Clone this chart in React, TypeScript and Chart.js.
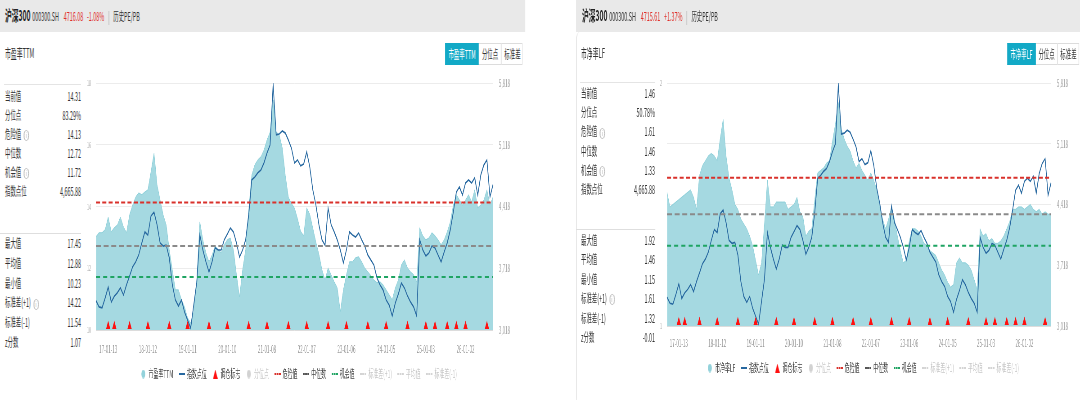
import React, { useEffect, useRef } from 'react';
import { Chart, registerables } from 'chart.js';

Chart.register(...registerables);

const FONT = "'Noto Sans CJK SC', 'Noto Sans', sans-serif";
Chart.defaults.font.family = FONT;

// horizontal compression of the whole picture
const SX = 0.45;
const u = (x: number) => x / SX;

// ---------------- data ----------------
const firstPeriod = '2016-09-23';
const periodStepDays = 28;
const labelOffset = 4;
const labelEvery = 13;

const csi300 = [
  3350, 3280, 3270, 3380, 3505, 3335, 3400, 3440, 3495, 3415,
  3530, 3630, 3735, 3790, 3870, 4005, 4130, 4095, 4310, 4355,
  4210, 4005, 3970, 3980, 3835, 3530, 3358, 3290, 3358, 3222,
  3130, 3040, 3300, 3560, 4095, 3925, 3790, 3675, 3790, 3950,
  3925, 3925, 4040, 4106, 4175, 4130, 4005, 3845, 3925, 4040,
  4322, 4720, 4753, 4800, 4832, 4912, 5025, 5116, 5800, 5230,
  5240, 5275, 5250, 5170, 5080, 4912, 4946, 4878, 4900, 5036,
  4866, 4605, 4435, 4210, 4040, 3980, 4400, 4210, 4130, 4040,
  3925, 3778, 3925, 4130, 4095, 4072, 4118, 4040, 3970, 3868,
  3812, 3755, 3608, 3530, 3472, 3358, 3300, 3176, 3324, 3426,
  3551, 3494, 3404, 3335, 3279, 3176, 4040, 3925, 3857, 3891,
  3970, 3948, 3868, 3790, 3902, 4005, 4152, 4356, 4583, 4640,
  4549, 4685, 4720, 4685, 4742, 4549, 4776, 4889, 4946, 4526,
  4666,
];

const peTTM = [
  13.02, 13.15, 13.15, 13.25, 13.66, 13.18, 13.31, 13.4, 13.66, 13.34,
  13.15, 13.73, 14.05, 14.31, 14.44, 14.38, 14.47, 14.54, 15.12, 15.73,
  14.7, 14.21, 13.73, 13.4, 12.6, 11.95, 11.3, 11.3, 10.98, 10.75,
  10.39, 10.23, 10.59, 11.62, 13.5, 12.92, 12.5, 12.21, 12.43, 12.72,
  12.6, 12.5, 12.76, 12.92, 12.98, 12.6, 11.79, 11.07, 11.95, 12.6,
  13.89, 15.02, 15.35, 15.51, 15.61, 15.83, 16.16, 16.41, 17.45, 16.41,
  16.32, 15.9, 15.0, 14.3, 14.1, 13.95, 13.6, 13.2, 13.05, 13.95,
  13.75, 13.3, 12.85, 12.45, 11.95, 11.62, 12.01, 11.79, 11.56, 11.37,
  10.6, 11.3, 11.79, 12.21, 12.21, 12.34, 12.37, 12.21, 12.01, 11.88,
  11.76, 11.62, 11.53, 11.56, 11.46, 11.3, 11.14, 10.98, 11.37, 11.62,
  12.11, 12.27, 12.01, 11.88, 11.79, 11.56, 13.31, 13.05, 12.92, 12.98,
  13.15, 13.05, 12.92, 12.76, 12.92, 13.18, 13.5, 14.05, 14.38, 14.21,
  14.05, 14.21, 14.38, 14.15, 14.54, 13.95, 14.05, 14.21, 14.54, 14.05,
  14.31,
];

const pbLF = [
  1.55, 1.49, 1.5, 1.51, 1.52, 1.53, 1.54, 1.55, 1.56, 1.53,
  1.48, 1.62, 1.66, 1.68, 1.7, 1.71, 1.7, 1.68, 1.77, 1.85,
  1.7, 1.61, 1.56, 1.5, 1.48, 1.44, 1.42, 1.4, 1.37, 1.33,
  1.27, 1.21, 1.26, 1.42, 1.6, 1.49, 1.49, 1.51, 1.51, 1.51,
  1.51, 1.48, 1.49, 1.5, 1.53, 1.47, 1.45, 1.37, 1.39, 1.4,
  1.52, 1.63, 1.64, 1.65, 1.67, 1.68, 1.76, 1.83, 1.92, 1.81,
  1.77, 1.74, 1.72, 1.68, 1.65, 1.67, 1.64, 1.62, 1.6, 1.63,
  1.6, 1.56, 1.49, 1.44, 1.4, 1.44, 1.49, 1.44, 1.37, 1.31,
  1.26, 1.27, 1.35, 1.4, 1.4, 1.39, 1.37, 1.34, 1.33, 1.31,
  1.3, 1.29, 1.26, 1.23, 1.21, 1.18, 1.16, 1.17, 1.26, 1.28,
  1.26, 1.26, 1.25, 1.23, 1.19, 1.15, 1.4, 1.37, 1.38, 1.35,
  1.36, 1.34, 1.34, 1.35, 1.37, 1.4, 1.43, 1.48, 1.48, 1.49,
  1.49, 1.48, 1.49, 1.5, 1.48, 1.47, 1.48, 1.46, 1.47, 1.46,
  1.46,
];

const rebalanceIdx = [4, 6, 11, 17, 24, 30, 37, 43, 50, 56, 63, 69, 76, 82, 89, 95, 102, 108, 111, 115, 118, 121, 128];

const indexAxisTicks = [3018, 5818, 700]; // min, max, step
const peAxisTicks = [10, 18, 2];
const pbAxisTicks = [1, 2, 0.25];

// stat lines [danger, median, opportunity, std+1, mean, std-1]
const peLines = [14.13, 12.72, 11.72, 14.22, 12.88, 11.54];
const pbLines = [1.61, 1.46, 1.33, 1.61, 1.46, 1.32];

const statLabelsTop = ['当前值', '分位点', '危险值', '中位数', '机会值', '指数点位'];
const statInfoTop = [false, false, true, false, true, false];
const statLabelsBottom = ['最大值', '平均值', '最小值', '标准差(+1)', '标准差(-1)', 'z分数'];
const statInfoBottom = [false, false, false, true, false, false];
const peValuesTop = ['14.31', '83.29%', '14.13', '12.72', '11.72', '4,665.88'];
const peValuesBottom = ['17.45', '12.88', '10.23', '14.22', '11.54', '1.07'];
const pbValuesTop = ['1.46', '50.78%', '1.61', '1.46', '1.33', '4,665.88'];
const pbValuesBottom = ['1.92', '1.46', '1.15', '1.61', '1.32', '-0.01'];

const legendRest = ['指数点位', '调仓标志', '分位点', '危险值', '中位数', '机会值', '标准差(+1)', '平均值', '标准差(-1)'];

// category labels (dates) for the x axis
const periods = csi300.map((_, i) => {
  const d = new Date(Date.parse(firstPeriod + 'T00:00:00Z') + i * periodStepDays * 86400000);
  const yy = String(d.getUTCFullYear()).slice(2);
  const mm = String(d.getUTCMonth() + 1).padStart(2, '0');
  const dd = String(d.getUTCDate()).padStart(2, '0');
  return `${yy}-${mm}-${dd}`;
});

// ---------------- styles ----------------
const AREA = '#a5d9e1';
const AREA_EDGE = '#8ccfd9';
const LINE = '#2768a0';
const RED = '#d9312b';
const GREY = '#8a8a8a';
const GREEN = '#1fa463';
const TRI = '#ff1010';
const TEAL = '#12a9c6';

function makeIcon(kind: string, color: string): HTMLCanvasElement {
  const c = document.createElement('canvas');
  const ctx = c.getContext('2d')!;
  if (kind === 'circle') {
    c.width = 9; c.height = 9;
    ctx.fillStyle = color;
    ctx.beginPath(); ctx.arc(4.5, 4.5, 4.3, 0, Math.PI * 2); ctx.fill();
  } else if (kind === 'line') {
    c.width = 13; c.height = 2;
    ctx.fillStyle = color;
    ctx.fillRect(0, 0, 13, 2);
  } else if (kind === 'tri') {
    c.width = 10; c.height = 9;
    ctx.fillStyle = color;
    ctx.beginPath(); ctx.moveTo(5, 0); ctx.lineTo(10, 9); ctx.lineTo(0, 9); ctx.closePath(); ctx.fill();
  } else {
    c.width = 14; c.height = 2;
    ctx.fillStyle = color;
    ctx.fillRect(0, 0, 4, 2); ctx.fillRect(5, 0, 4, 2); ctx.fillRect(10, 0, 4, 2);
  }
  return c;
}

interface ChartSpec {
  L: number; R: number; top: number; height: number;
  W1: number; W2: number; padTop: number; padBottom: number; xH: number; xPad: number;
  area: number[]; areaLabel: string; axis: number[]; leftLabel: (v: number) => string;
  lines: number[];
}

function buildConfig(s: ChartSpec): any {
  const constLine = (v: number) => csi300.map(() => v);
  const markers = csi300.map((_, i) => (rebalanceIdx.includes(i) ? 1.5 : null));
  const dashed = (label: string, v: number, color: string, dash: number[], hidden = false) => ({
    label, data: constLine(v), yAxisID: 'yL', borderColor: color, backgroundColor: color,
    borderDash: dash, borderWidth: 2, pointRadius: 0, fill: false, order: 2, hidden,
  });
  const datasets: any[] = [
    { label: s.areaLabel, data: s.area, yAxisID: 'yL', fill: 'start', backgroundColor: AREA, borderColor: AREA_EDGE, borderWidth: 1, pointRadius: 0, tension: 0, order: 10 },
    { label: legendRest[0], data: csi300, yAxisID: 'yR', borderColor: LINE, borderWidth: 1.7, pointRadius: 0, fill: false, tension: 0, order: 5 },
    { label: legendRest[1], data: markers, yAxisID: 'yM', showLine: false, pointStyle: 'triangle', pointRadius: 5.5, pointBackgroundColor: TRI, pointBorderColor: TRI, pointBorderWidth: 0, clip: false, order: 0 },
    { label: legendRest[2], data: [], yAxisID: 'yL', hidden: true, borderColor: '#ccc', pointRadius: 0 },
    dashed(legendRest[3], s.lines[0], RED, [9, 5]),
    dashed(legendRest[4], s.lines[1], GREY, [11, 6]),
    dashed(legendRest[5], s.lines[2], GREEN, [9, 7]),
    dashed(legendRest[6], s.lines[3], '#ccc', [9, 5], true),
    dashed(legendRest[7], s.lines[4], '#ccc', [9, 5], true),
    dashed(legendRest[8], s.lines[5], '#ccc', [9, 5], true),
  ];
  const icons = [
    makeIcon('circle', '#93d2db'), makeIcon('line', LINE), makeIcon('tri', TRI), makeIcon('circle', '#d2d2d2'),
    makeIcon('dash', RED), makeIcon('dash', '#555'), makeIcon('dash', GREEN),
    makeIcon('dash', '#d4d4d4'), makeIcon('dash', '#d4d4d4'), makeIcon('dash', '#d4d4d4'),
  ];
  return {
    type: 'line',
    data: { labels: periods, datasets },
    options: {
      responsive: false,
      animation: false,
      events: [],
      layout: { padding: { top: s.padTop, bottom: s.padBottom, left: 0, right: 0 } },
      plugins: {
        tooltip: { enabled: false },
        legend: {
          position: 'bottom',
          onClick: () => {},
          labels: {
            usePointStyle: true,
            pointStyleWidth: 12,
            boxHeight: 11,
            padding: 13,
            font: { size: 11, family: FONT },
            generateLabels: (chart: any) =>
              chart.data.datasets.map((ds: any, i: number) => ({
                text: ds.label,
                pointStyle: icons[i],
                fillStyle: 'rgba(0,0,0,0)',
                strokeStyle: 'rgba(0,0,0,0)',
                lineWidth: 0,
                hidden: false,
                fontColor: ds.hidden ? '#c8c8c8' : '#444',
                datasetIndex: i,
              })),
          },
        },
      },
      scales: {
        x: {
          type: 'category',
          offset: false,
          grid: { display: false },
          border: { display: true, color: '#dcdcdc' },
          ticks: {
            autoSkip: false, maxRotation: 0, minRotation: 0, padding: s.xPad,
            color: '#9a9a9a', font: { size: 10 },
            callback: (_v: any, i: number) => (i >= labelOffset && (i - labelOffset) % labelEvery === 0 ? periods[i] : ''),
          },
          afterFit: (sc: any) => { sc.height = s.xH; },
        },
        yL: {
          position: 'left', min: s.axis[0], max: s.axis[1],
          grid: { color: '#ececec', drawTicks: false },
          border: { display: false },
          ticks: { stepSize: s.axis[2], padding: 11, color: '#acacac', font: { size: 8 }, callback: (v: number) => s.leftLabel(v) },
          afterFit: (sc: any) => { sc.width = s.W1; },
        },
        yR: {
          position: 'right', min: indexAxisTicks[0], max: indexAxisTicks[1],
          grid: { display: false, drawTicks: false },
          border: { display: false },
          ticks: { stepSize: indexAxisTicks[2], padding: 13, color: '#acacac', font: { size: 10 }, callback: (v: number) => v.toLocaleString('en-US') },
          afterFit: (sc: any) => { sc.width = s.W2; },
        },
        yM: { display: false, min: 0, max: 100 },
      },
    },
  };
}

function PanelChart({ spec }: { spec: ChartSpec }) {
  const ref = useRef<HTMLCanvasElement>(null);
  useEffect(() => {
    const chart = new Chart(ref.current as HTMLCanvasElement, buildConfig(spec));
    return () => chart.destroy();
  }, []);
  return (
    <canvas
      ref={ref}
      width={Math.round(spec.R - spec.L)}
      height={spec.height}
      style={{ position: 'absolute', left: spec.L, top: spec.top }}
    />
  );
}

interface PanelSpec {
  x0: number; x1: number; headerX: number; price: string; change: string; sepGap: number;
  title: string; btn: [number, number, number, number];
  labelX: number; valueX: number;
  topRows: [number, number]; bottomRows: [number, number];
  lineY: [number, number];
  valuesTop: string[]; valuesBottom: string[];
  border: boolean;
  chart: ChartSpec;
}

const Info = () => (
  <span style={{ display: 'inline-block', marginLeft: 6, width: 9, height: 9, lineHeight: '9px', borderRadius: '50%', border: '1px solid #aaa', color: '#999', fontSize: 7, textAlign: 'center', verticalAlign: 'middle' }}>i</span>
);

function Panel({ p }: { p: PanelSpec }) {
  const rows = (labels: string[], info: boolean[], values: string[], start: number, step: number) =>
    labels.map((lab, k) => {
      const yc = start + k * step;
      return (
        <React.Fragment key={lab}>
          <div style={{ position: 'absolute', left: u(p.labelX), top: yc - 8, height: 16, lineHeight: '16px', fontSize: 12, color: '#333', whiteSpace: 'nowrap' }}>
            {lab}{info[k] ? <Info /> : null}
          </div>
          <div style={{ position: 'absolute', left: u(p.valueX) - 200, width: 200, textAlign: 'right', top: yc - 8, height: 16, lineHeight: '16px', fontSize: 12, color: '#333', whiteSpace: 'nowrap' }}>
            {values[k]}
          </div>
        </React.Fragment>
      );
    });
  const [b0, b1, b2, b3] = p.btn;
  return (
    <>
      {/* header */}
      <div style={{ position: 'absolute', left: u(p.x0), top: 0, width: u(p.x1 - p.x0), height: 32, background: '#e9e9e9' }} />
      <div style={{ position: 'absolute', left: u(p.headerX), top: 6, height: 18, lineHeight: '18px', whiteSpace: 'nowrap', color: '#333', fontSize: 12 }}>
        <span style={{ fontWeight: 700, fontSize: 15, color: '#222' }}>沪深300</span>
        <span style={{ marginLeft: 4 }}>000300.SH</span>
        <span style={{ marginLeft: 11, color: '#e0302b' }}>{p.price}</span>
        <span style={{ marginLeft: 8, color: '#e0302b' }}>{p.change}</span>
        <span style={{ display: 'inline-block', width: 2, height: 14, background: '#c8c8c8', margin: `0 ${p.sepGap}px`, verticalAlign: 'middle' }} />
        <span>历史PE/PB</span>
      </div>
      {/* card */}
      <div style={{ position: 'absolute', left: u(p.x0), top: 32, width: u(p.x1 - p.x0), height: 368, background: '#fff', borderTopLeftRadius: 8, borderLeft: p.border ? '2px solid #e6e6e6' : 'none', boxSizing: 'border-box' }} />
      <div style={{ position: 'absolute', left: u(p.labelX), top: 45, height: 16, lineHeight: '16px', fontSize: 13, color: '#333' }}>{p.title}</div>
      {/* buttons */}
      <div style={{ position: 'absolute', left: u(b0), top: 43, width: u(b3 - b0), height: 22, border: '1px solid #dcdcdc', boxSizing: 'border-box' }} />
      <div style={{ position: 'absolute', left: u(b0), top: 43, width: u(b1 - b0), height: 22, background: TEAL, color: '#fff', fontSize: 12, lineHeight: '22px', textAlign: 'center' }}>{p.title}</div>
      <div style={{ position: 'absolute', left: u(b1), top: 43, width: u(b2 - b1), height: 22, color: '#333', fontSize: 12, lineHeight: '22px', textAlign: 'center' }}>分位点</div>
      <div style={{ position: 'absolute', left: u(b2), top: 43, width: u(b3 - b2), height: 22, color: '#333', fontSize: 12, lineHeight: '22px', textAlign: 'center', borderLeft: '2px solid #e2e2e2', boxSizing: 'border-box' }}>标准差</div>
      {/* stat separators */}
      <div style={{ position: 'absolute', left: u(p.labelX - 1), top: p.lineY[0], width: u(p.valueX - p.labelX + 1), height: 1, background: '#e4e4e4' }} />
      <div style={{ position: 'absolute', left: u(p.labelX - 5), top: p.lineY[1], width: u(p.valueX - p.labelX + 5), height: 1, background: '#dedede' }} />
      {rows(statLabelsTop, statInfoTop, p.valuesTop, p.topRows[0], p.topRows[1])}
      {rows(statLabelsBottom, statInfoBottom, p.valuesBottom, p.bottomRows[0], p.bottomRows[1])}
      <PanelChart spec={p.chart} />
    </>
  );
}

const leftPanel: PanelSpec = {
  x0: 0, x1: 525, headerX: 5, price: '4716.08', change: '-1.08%', sepGap: 9,
  title: '市盈率TTM', btn: [445, 479, 501, 523],
  labelX: 5, valueX: 81, topRows: [96, 19], bottomRows: [243, 19.8], lineY: [84, 233],
  valuesTop: peValuesTop, valuesBottom: peValuesBottom, border: false,
  chart: {
    L: 100, R: 1228, top: 60, height: 335, W1: 113.3, W2: 132.4, padTop: 23, padBottom: 5.5, xH: 25.5, xPad: 5,
    area: peTTM, areaLabel: '市盈率TTM', axis: peAxisTicks, leftLabel: (v: number) => String(v), lines: peLines,
  },
};

const rightPanel: PanelSpec = {
  x0: 576, x1: 1080, headerX: 582, price: '4715.61', change: '+1.37%', sepGap: 9,
  title: '市净率LF', btn: [1007, 1036, 1057, 1079],
  labelX: 581, valueX: 655, topRows: [93, 19.2], bottomRows: [240, 19.4], lineY: [82, 229],
  valuesTop: pbValuesTop, valuesBottom: pbValuesBottom, border: true,
  chart: {
    L: 1436, R: 2400, top: 60, height: 335, W1: 46.2, W2: 64.4, padTop: 23, padBottom: 11.5, xH: 23.5, xPad: 3,
    area: pbLF, areaLabel: '市净率LF', axis: pbAxisTicks, leftLabel: (v: number) => (Number.isInteger(v) ? String(v) : ''), lines: pbLines,
  },
};

export default function App() {
  return (
    <div style={{ position: 'fixed', left: 0, top: 0, width: 1080, height: 400, overflow: 'hidden', background: '#fff' }}>
      <div style={{ position: 'absolute', left: 0, top: 0, width: u(1080), height: 400, transform: `scaleX(${SX})`, transformOrigin: '0 0', fontFamily: FONT }}>
        <Panel p={leftPanel} />
        <Panel p={rightPanel} />
      </div>
    </div>
  );
}
